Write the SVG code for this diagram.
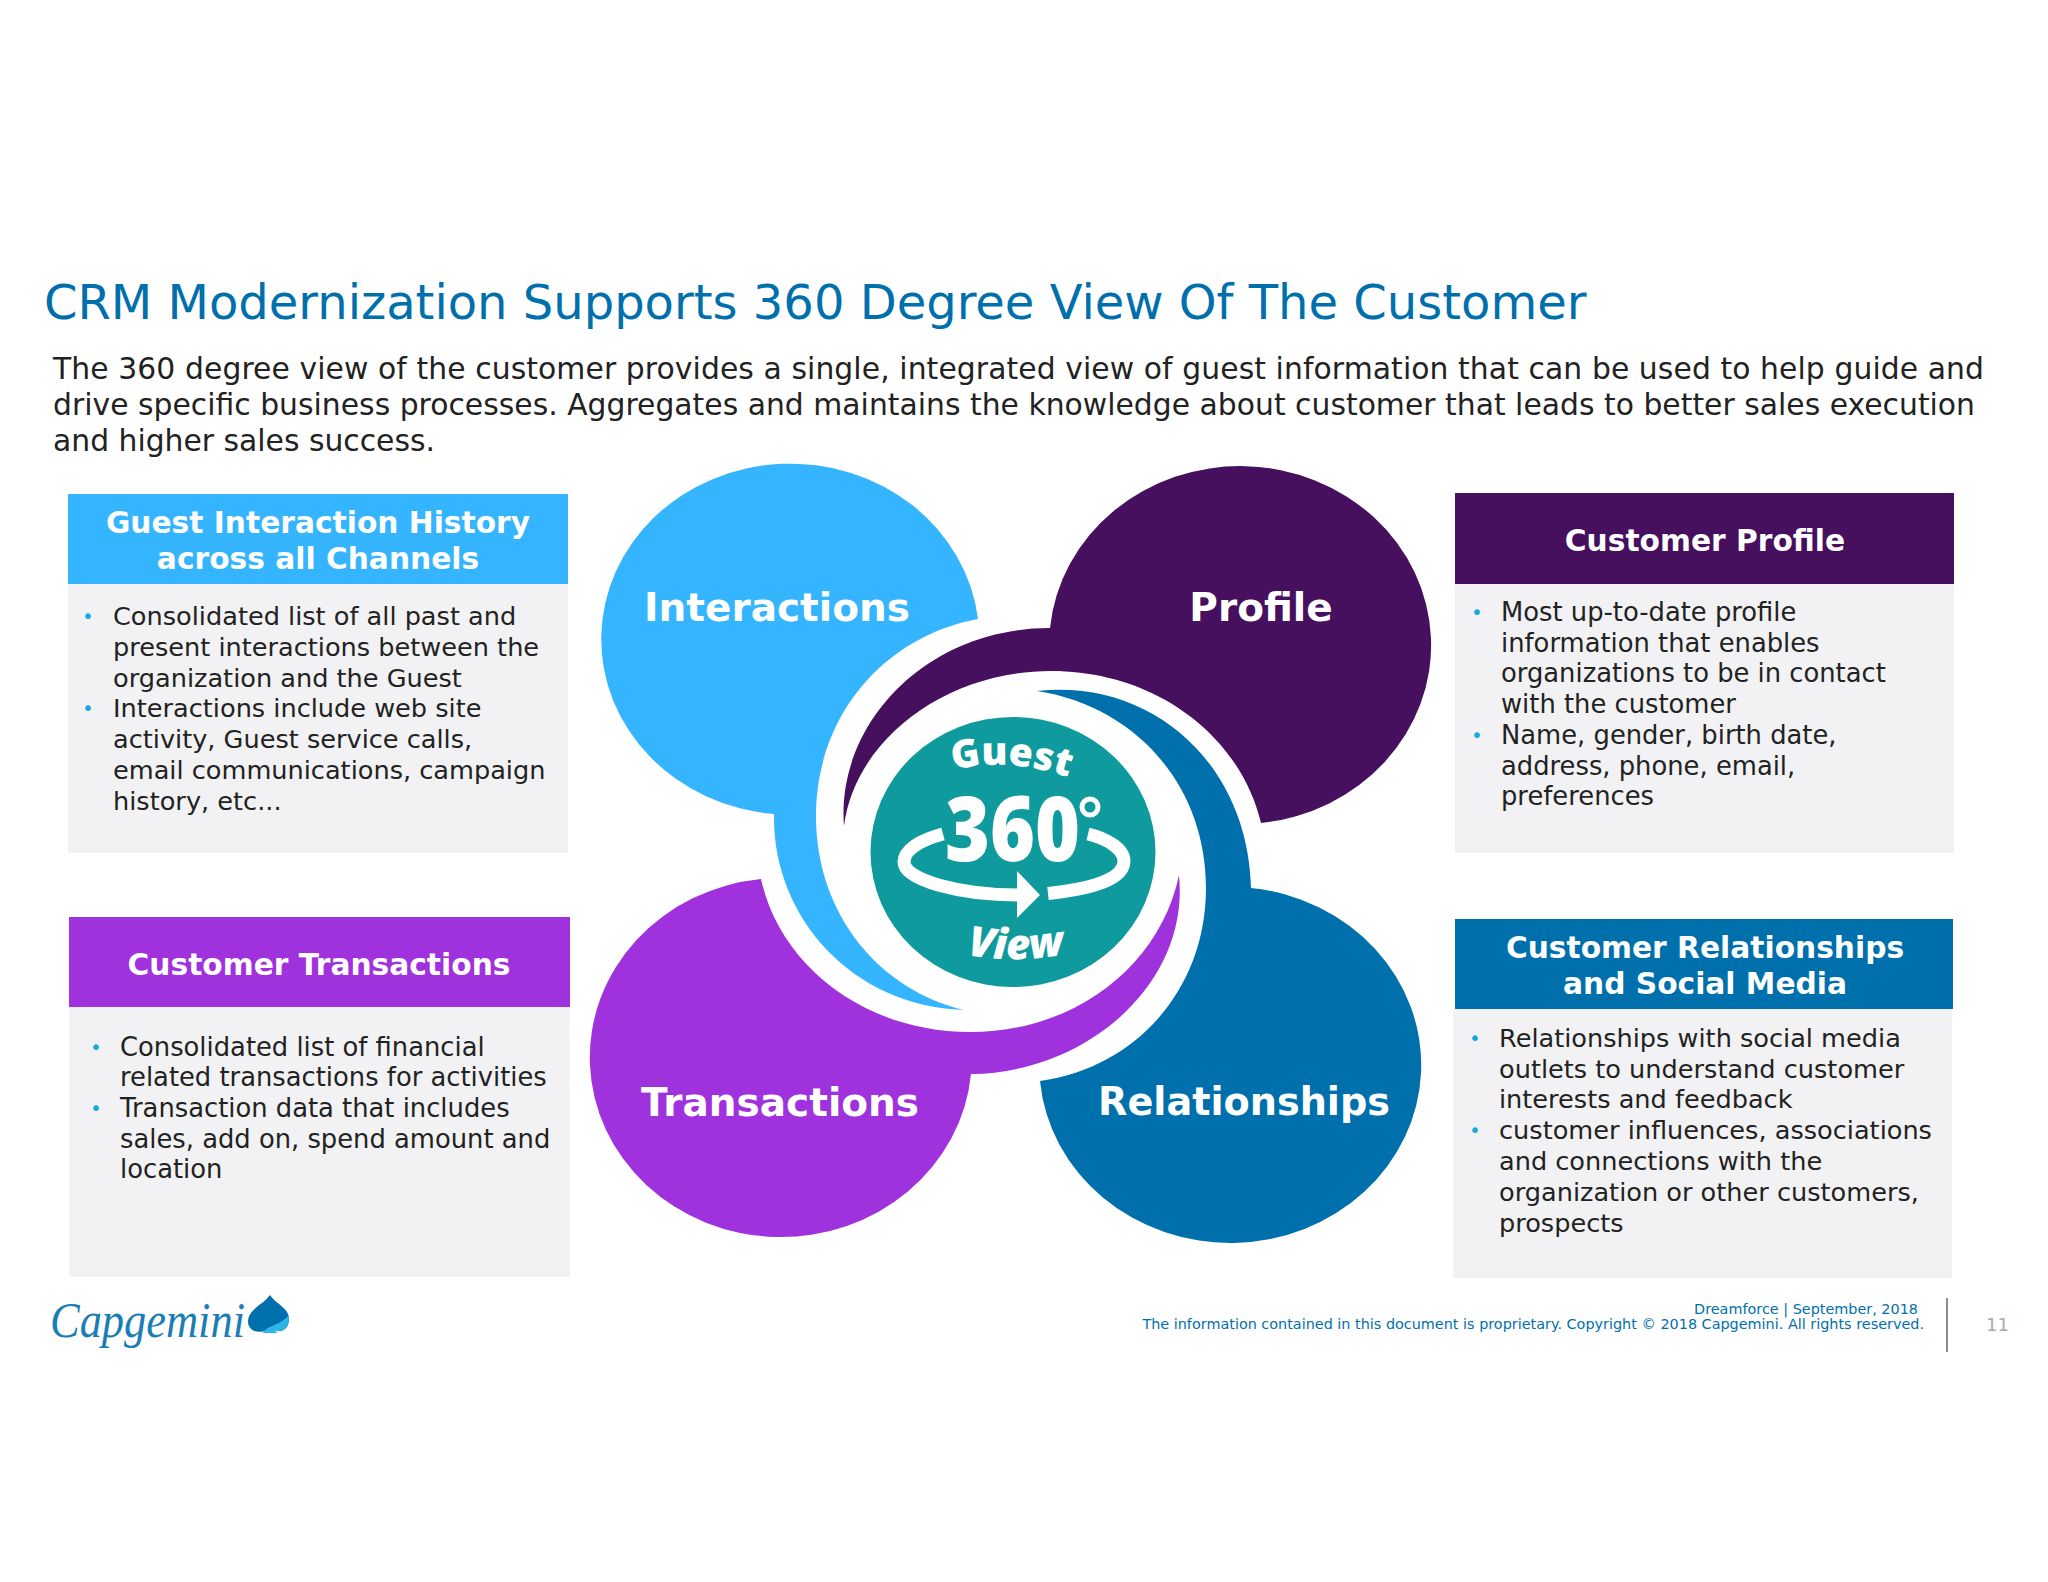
<svg xmlns="http://www.w3.org/2000/svg" width="2048" height="1582" viewBox="0 0 2048 1582">
<style>
text{font-family:"DejaVu Sans",Verdana,sans-serif}
.title{font-size:48px;fill:#0070ad}
.intro{font-size:29.800px;fill:#222}
.hd{font-size:29.700px;font-weight:700;fill:#fff;text-anchor:middle}
.li{font-size:25.600px;fill:#222}
.li2{font-size:25.800px;fill:#222}
.bu{font-size:20px;fill:#12abdb}
.bg{fill:#f2f2f4}
.lab{font-size:39px;font-weight:700;fill:#fff;text-anchor:middle}
.foot{font-size:14.400px;fill:#0070ad}
.oc{font-weight:800;fill:#fff;font-family:"Open Sans",sans-serif}
.ring{fill:none;stroke:#fff;stroke-width:13}
</style>
<rect width="2048" height="1582" fill="#fff"/>
<text class="title" x="44" y="319">CRM Modernization Supports 360 Degree View Of The Customer</text>
<g id="intro" class="intro">
<text x="53" y="379" textLength="1931">The 360 degree view of the customer provides a single, integrated view of guest information that can be used to help guide and</text>
<text x="53" y="415" textLength="1922">drive specific business processes. Aggregates and maintains the knowledge about customer that leads to better sales execution</text>
<text x="53" y="451">and higher sales success.</text>
</g>
<g id="box-interaction">
<rect class="bg" x="68" y="584" width="500" height="269"/>
<rect x="68" y="494" width="500" height="90" fill="#35b4ff"/>
<text class="hd" x="318" y="533">Guest Interaction History</text>
<text class="hd" x="318" y="569">across all Channels</text>
<g class="li">
<text class="bu" x="82" y="623">•</text><text x="113" y="625">Consolidated list of all past and</text>
<text x="113" y="656">present interactions between the</text>
<text x="113" y="687">organization and the Guest</text>
<text class="bu" x="82" y="715">•</text><text x="113" y="717">Interactions include web site</text>
<text x="113" y="748">activity, Guest service calls,</text>
<text x="113" y="779">email communications, campaign</text>
<text x="113" y="810">history, etc...</text>
</g>
</g>
<g id="box-profile">
<rect class="bg" x="1455" y="584" width="499" height="269"/>
<rect x="1455" y="493" width="499" height="91" fill="#46105f"/>
<text class="hd" x="1705" y="551">Customer Profile</text>
<g class="li2">
<text class="bu" x="1471" y="619">•</text><text x="1501" y="621">Most up-to-date profile</text>
<text x="1501" y="652">information that enables</text>
<text x="1501" y="682">organizations to be in contact</text>
<text x="1501" y="713">with the customer</text>
<text class="bu" x="1471" y="742">•</text><text x="1501" y="744">Name, gender, birth date,</text>
<text x="1501" y="775">address, phone, email,</text>
<text x="1501" y="805">preferences</text>
</g>
</g>
<g id="box-transactions">
<rect class="bg" x="69" y="1007" width="501" height="270"/>
<rect x="69" y="917" width="501" height="90" fill="#a032de"/>
<text class="hd" x="319" y="975">Customer Transactions</text>
<g class="li2">
<text class="bu" x="90" y="1054">•</text><text x="120" y="1056">Consolidated list of financial</text>
<text x="120" y="1086">related transactions for activities</text>
<text class="bu" x="90" y="1115">•</text><text x="120" y="1117">Transaction data that includes</text>
<text x="120" y="1148">sales, add on, spend amount and</text>
<text x="120" y="1178">location</text>
</g>
</g>
<g id="box-relationships">
<rect class="bg" x="1453" y="1009" width="499" height="269"/>
<rect x="1455" y="919" width="498" height="90" fill="#0070ad"/>
<text class="hd" x="1705" y="958">Customer Relationships</text>
<text class="hd" x="1705" y="994">and Social Media</text>
<g class="li">
<text class="bu" x="1469" y="1045">•</text><text x="1499" y="1047">Relationships with social media</text>
<text x="1499" y="1078">outlets to understand customer</text>
<text x="1499" y="1108">interests and feedback</text>
<text class="bu" x="1469" y="1137">•</text><text x="1499" y="1139">customer influences, associations</text>
<text x="1499" y="1170">and connections with the</text>
<text x="1499" y="1201">organization or other customers,</text>
<text x="1499" y="1232">prospects</text>
</g>
</g>
<g id="node-interactions">
<path fill="#35b4ff" d="M978,619A189,175.500 0 1 0 774,814C772,915 850,1006 964,1010C880,990 816,915 816,816C816,715 885,636 978,619Z"/>
<text class="lab" x="777" y="621">Interactions</text>
</g>
<g id="node-profile">
<path fill="#46105f" d="M1050,628A191,179 0 1 1 1261,823C1240,735 1155,671 1051,671C945,671 855,740 844,826C836,725 925,628 1050,628Z"/>
<text class="lab" x="1261" y="621">Profile</text>
</g>
<g id="node-relationships">
<path fill="#0070ad" d="M1251,888A191,178 0 1 1 1040,1081C1135,1068 1206,990 1206,888C1206,785 1135,706 1037,691C1150,678 1248,762 1251,888Z"/>
<text class="lab" x="1244" y="1115" style="font-size:38.200px">Relationships</text>
</g>
<g id="node-transactions">
<path fill="#a032de" d="M761,879A191,179.500 0 1 0 971,1074C1085,1073 1190,985 1179,875C1160,966 1075,1032 970,1032C865,1032 780,966 761,879Z"/>
<text class="lab" x="780" y="1116">Transactions</text>
</g>
<g id="node-center">
<ellipse cx="1013" cy="852" rx="142.500" ry="135" fill="#0f9a9d"/>
<defs>
<path id="arcG" d="M953,770Q1015,755 1086,784"/>
<path id="arcV" d="M967,955Q1015,964 1066,954"/>
</defs>
<text class="oc" font-size="39"><textPath href="#arcG">Guest</textPath></text>
<text class="oc" font-size="42" font-style="italic"><textPath href="#arcV">View</textPath></text>
<text class="oc" x="1012.500" y="861" font-size="90" text-anchor="middle" textLength="135" lengthAdjust="spacingAndGlyphs">360</text>
<circle cx="1090" cy="807" r="8" fill="none" stroke="#fff" stroke-width="5"/>
<path class="ring" d="M943,834C920,840 904,850 904,862C904,880 960,895 1018,895"/>
<path class="ring" d="M1048,893.500C1090,889 1124,880 1124,861C1124,848 1105,838 1088,834"/>
<path d="M1017,871L1040,895L1017,918Z" fill="#fff"/>
</g>
<g id="footer">
<g id="logo">
<text x="50" y="1337" font-size="50" font-style="italic" fill="#1a7db5" textLength="195" lengthAdjust="spacingAndGlyphs" style="font-family:'Liberation Serif',serif">Capgemini</text>
<path d="M270,1295C263,1305 248,1309 248,1322C248,1331 260,1335 268,1329L263,1333L277,1333L273,1329C280,1334 289,1330 289,1319C289,1308 277,1305 270,1295Z" fill="#0070ad"/>
<path d="M289,1315C290,1330 280,1334 273,1329L277,1333L263,1333C267,1325 280,1326 289,1315Z" fill="#2eb5e8"/>
</g>
<text class="foot" x="1918" y="1314" text-anchor="end">Dreamforce | September, 2018</text>
<text class="foot" x="1924" y="1329" text-anchor="end">The information contained in this document is proprietary. Copyright © 2018 Capgemini. All rights reserved.</text>
<rect x="1946" y="1298" width="2" height="54" fill="#8c8c8c"/>
<text x="1986" y="1331" font-size="18" fill="#aaa">11</text>
</g>
</svg>
